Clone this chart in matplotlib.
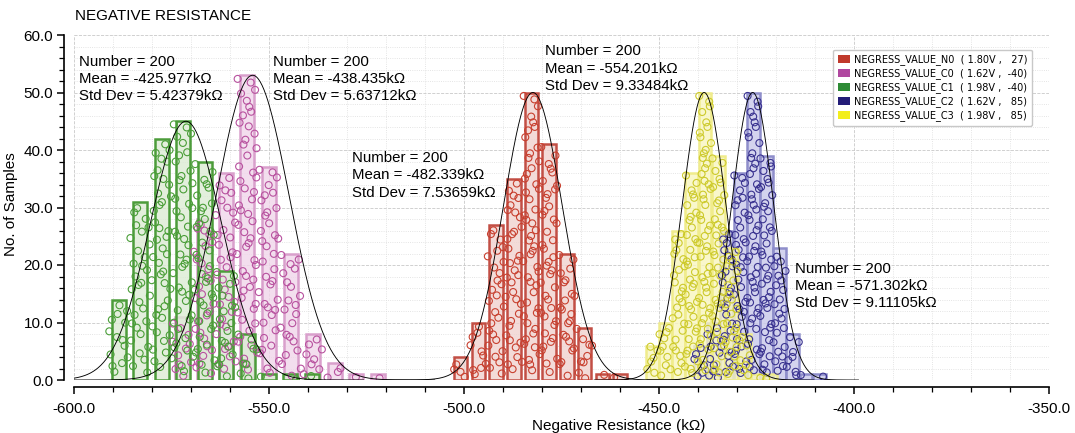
import numpy as np
import matplotlib
matplotlib.use("Agg")
import matplotlib.pyplot as plt
from matplotlib.patches import Patch
from matplotlib.ticker import MultipleLocator, FormatStrFormatter
from matplotlib.colors import to_rgba

plt.rcParams['font.family'] = ['Liberation Sans', 'DejaVu Sans']

# ---- histogram data (bin centres in kOhm, sample counts per bin) ----
series_names = ["NEGRESS_VALUE_N0", "NEGRESS_VALUE_C0", "NEGRESS_VALUE_C1",
                "NEGRESS_VALUE_C2", "NEGRESS_VALUE_C3"]
series_conditions = ["( 1.80V ,   27)", "( 1.62V ,  -40)", "( 1.98V ,  -40)",
                     "( 1.62V ,   85)", "( 1.98V ,   85)"]

n0_centers = [-500.9, -496.3, -491.8, -487.2, -482.7, -478.2, -473.6, -469.1, -464.5, -460.0]
n0_counts = [4, 10, 27, 35, 50, 41, 22, 9, 1, 1]

c0_centers = [-572.3, -566.7, -561.1, -555.6, -550.0, -544.4, -538.8, -533.2, -527.6, -522.1]
c0_counts = [11, 28, 36, 53, 37, 22, 8, 3, 1, 1]

c1_centers = [-588.5, -583.0, -577.5, -572.0, -566.5, -561.0, -555.5, -550.0, -544.5, -539.0]
c1_counts = [14, 31, 42, 45, 38, 19, 8, 1, 1, 1]

c2_centers = [-439.4, -436.0, -432.6, -429.2, -425.8, -422.5, -419.1, -415.7, -412.3, -408.9]
c2_counts = [6, 10, 26, 36, 50, 39, 23, 8, 1, 1]

c3_centers = [-451.7, -448.3, -444.9, -441.6, -438.2, -434.8, -431.4, -428.0, -424.7, -421.3]
c3_counts = [6, 10, 26, 36, 50, 39, 23, 8, 1, 1]

# summary statistics per series (N0, C0, C1, C2, C3)
sample_numbers = [200, 200, 200, 200, 200]
means = [-482.339, -554.201, -571.302, -425.977, -438.435]
std_devs = [7.53659, 9.33484, 9.11105, 5.42379, 5.63712]

x_ticks = [-600.0, -550.0, -500.0, -450.0, -400.0, -350.0]
y_ticks = [0.0, 10.0, 20.0, 30.0, 40.0, 50.0, 60.0]

# ---- styles ----
legend_colors = ['#c0392b', '#b0479f', '#2e8b35', '#231c78', '#f3ee1c']
edge_colors = ['#c24f45', '#d9a0cc', '#4c9c3a', '#8f8ecb', '#f0ec8c']
fill_colors = ['#f0d2cf', '#f1d6ea', '#dcebd4', '#c9c9ea', '#f8f5bf']
marker_colors = ['#c8402f', '#b8529f', '#4a9e38', '#3a3390', '#cdca2c']
bar_widths = [3.4, 3.6, 3.6, 3.3, 3.3]

centers_all = [n0_centers, c0_centers, c1_centers, c2_centers, c3_centers]
counts_all = [n0_counts, c0_counts, c1_counts, c2_counts, c3_counts]
draw_order = [1, 2, 0, 3, 4]


def radical_inverse(n, base):
    """Van der Corput radical inverse, used for an even strip layout."""
    inv, f = 0.0, 1.0 / base
    while n > 0:
        n, d = divmod(n, base)
        inv += d * f
        f /= base
    return inv


fig = plt.figure(figsize=(10.75, 4.33), dpi=100)
ax = fig.add_axes([74 / 1075, 53 / 433, 975 / 1075, 345 / 433])

# histogram bars
for s in draw_order:
    ax.bar(centers_all[s], counts_all[s], width=bar_widths[s],
           facecolor=to_rgba(fill_colors[s], 0.8), edgecolor=edge_colors[s],
           linewidth=1.8, zorder=2)

# individual samples, spread across the width and height of their bin
for s in draw_order:
    cen = np.array(centers_all[s])
    binw = float(np.mean(np.diff(cen)))
    xs, ys = [], []
    for i, (c, h) in enumerate(zip(cen, counts_all[s])):
        for k in range(h):
            idx = k + 1 + 11 * i + 5 * s
            fx = radical_inverse(idx, 2)
            fy = radical_inverse(idx, 3)
            xs.append(c + (fx - 0.5) * binw * 0.95)
            ys.append(h * (0.03 + 0.97 * fy))
    ax.scatter(xs, ys, s=25, facecolors='none', edgecolors=marker_colors[s],
               linewidths=0.8, zorder=3)

# fitted normal curves, scaled to the tallest bin
for s in draw_order:
    mu, sd = means[s], std_devs[s]
    xx = np.linspace(mu - 5 * sd, mu + 5 * sd, 400)
    yy = max(counts_all[s]) * np.exp(-0.5 * ((xx - mu) / sd) ** 2)
    ax.plot(xx, yy, color='black', linewidth=0.65, zorder=4)

# statistics boxes
stat_positions = {3: (-598.7, 56.6), 4: (-549.0, 56.6), 0: (-528.7, 39.8),
                  1: (-479.2, 58.4), 2: (-415.1, 20.6)}
for s, (tx, ty) in stat_positions.items():
    txt = (f"Number = {sample_numbers[s]}\n"
           f"Mean = {means[s]:.3f}k\u03a9\n"
           f"Std Dev = {std_devs[s]:.5f}k\u03a9")
    ax.text(tx, ty, txt, fontsize=10.8, va='top', ha='left',
            linespacing=1.3, zorder=6)

# axes styling
ax.set_xlim(-600, -350)
ax.set_ylim(0, 60)
ax.set_xticks(x_ticks)
ax.set_yticks(y_ticks)
ax.xaxis.set_minor_locator(MultipleLocator(10))
ax.yaxis.set_minor_locator(MultipleLocator(2))
ax.xaxis.set_major_formatter(FormatStrFormatter('%.1f'))
ax.yaxis.set_major_formatter(FormatStrFormatter('%.1f'))

ax.spines['top'].set_visible(False)
ax.spines['right'].set_visible(False)
ax.spines['left'].set_position(('outward', 7))
ax.spines['bottom'].set_position(('outward', 5))
for sp in ('left', 'bottom'):
    ax.spines[sp].set_linewidth(1.2)

ax.tick_params(which='major', length=5, width=1.1, labelsize=11)
ax.tick_params(which='minor', length=3.5, width=0.9)
ax.tick_params(axis='x', which='major', pad=6)
ax.tick_params(axis='y', which='major', pad=3)

ax.grid(which='major', color='#c9c9c9', linestyle='--', linewidth=0.6, zorder=0)
ax.grid(which='minor', color='#dcdcdc', linestyle=':', linewidth=0.6, zorder=0)
ax.set_axisbelow(True)

ax.set_xlabel("Negative Resistance (k\u03a9)", fontsize=11)
ax.xaxis.set_label_coords(0.559, -0.113)
ax.set_ylabel("No. of Samples", fontsize=11)
ax.yaxis.set_label_coords(-0.057, 0.51)

ax.text(0.001, 1.055, "NEGATIVE RESISTANCE", transform=ax.transAxes,
        fontsize=11, ha='left', va='center')

# legend
handles = [Patch(facecolor=legend_colors[s], edgecolor='none') for s in range(5)]
labels = [f"{series_names[s]}  {series_conditions[s]}" for s in range(5)]
leg = ax.legend(handles, labels, loc='upper right', bbox_to_anchor=(0.988, 0.972),
                prop={'family': 'DejaVu Sans', 'size': 7}, frameon=True,
                fancybox=True, framealpha=1.0, edgecolor='#c8c8c8',
                borderpad=0.5, handlelength=1.3, handleheight=0.9,
                handletextpad=0.4, labelspacing=0.32)
leg.set_zorder(7)

fig.savefig("out.png", dpi=100)
